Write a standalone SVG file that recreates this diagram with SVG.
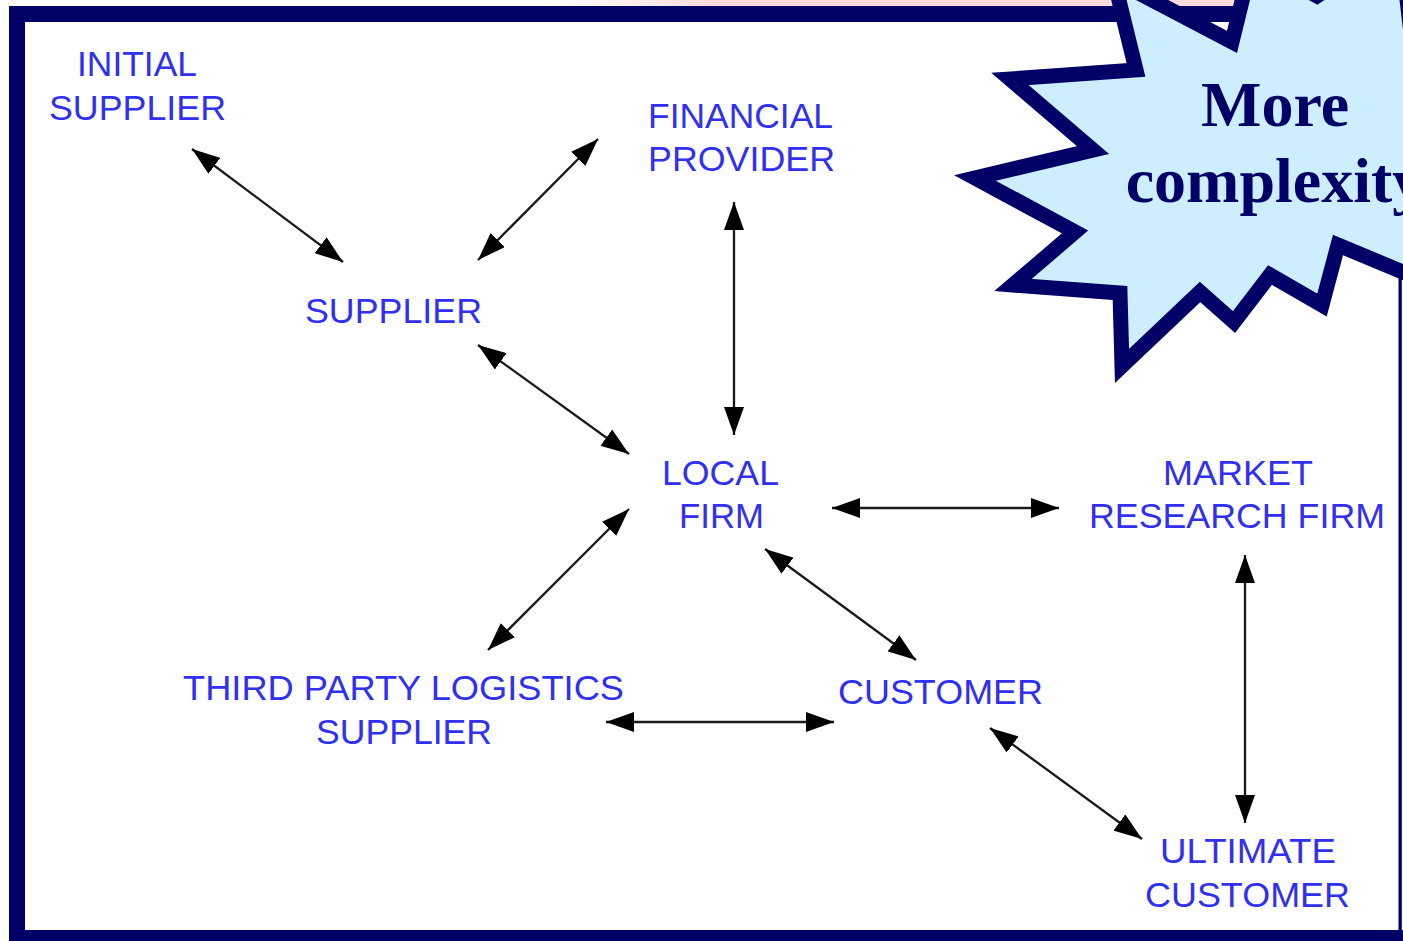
<svg xmlns="http://www.w3.org/2000/svg" width="1403" height="941" viewBox="0 0 1403 941">
<defs>
<style>
.lbl{font-family:"Liberation Sans",Arial,sans-serif;font-size:35px;fill:#3030f0}
.con{stroke:#1a1a1a;stroke-width:2.3;fill:none;marker-start:url(#ah);marker-end:url(#ah)}
.burst{fill:#cceeff;stroke:#000066;stroke-width:15;stroke-linejoin:miter;stroke-miterlimit:12}
.big{font-family:"Liberation Serif","Times New Roman",serif;font-weight:bold;font-size:64px;fill:#000066}
</style>
<linearGradient id="pink" x1="0" y1="0" x2="1" y2="0">
<stop offset="0" stop-color="#ffffff"/>
<stop offset="0.2" stop-color="#ffdcdc"/>
<stop offset="1" stop-color="#ffdcdc"/>
</linearGradient>
<marker id="ah" markerUnits="userSpaceOnUse" markerWidth="28" markerHeight="20" viewBox="0 0 28 20" refX="28" refY="10" orient="auto-start-reverse">
<path d="M0,0 L28,10 L0,20 Z" fill="#000"/>
</marker>
</defs>
<rect x="0" y="0" width="1403" height="941" fill="#ffffff"/>
<rect x="545" y="0" width="858" height="7" fill="url(#pink)"/>
<g id="frame">
<path d="M9,6 H1403 V941 H9 Z M25,22 V930 H1398.5 V22 Z" fill="#000066" fill-rule="evenodd"/>
<rect x="1401.8" y="22" width="1.2" height="908" fill="#ffffff"/>
</g>
<g id="connectors">
<line class="con" x1="192" y1="149" x2="343" y2="262"/>
<line class="con" x1="478" y1="260" x2="598" y2="139"/>
<line class="con" x1="734" y1="202" x2="734" y2="435"/>
<line class="con" x1="478" y1="345" x2="629" y2="454"/>
<line class="con" x1="629" y1="509" x2="488" y2="650"/>
<line class="con" x1="832" y1="508" x2="1059" y2="508"/>
<line class="con" x1="765" y1="549" x2="916" y2="660"/>
<line class="con" x1="606" y1="722" x2="834" y2="722"/>
<line class="con" x1="990" y1="728" x2="1142" y2="839"/>
<line class="con" x1="1245" y1="555" x2="1245" y2="823"/>
</g>
<g id="initial-supplier">
<text class="lbl" x="77" y="76" textLength="120" lengthAdjust="spacingAndGlyphs">INITIAL</text>
<text class="lbl" x="49" y="120" textLength="177" lengthAdjust="spacingAndGlyphs">SUPPLIER</text>
</g>
<g id="financial-provider">
<text class="lbl" x="648" y="128" textLength="185" lengthAdjust="spacingAndGlyphs">FINANCIAL</text>
<text class="lbl" x="648" y="171" textLength="187" lengthAdjust="spacingAndGlyphs">PROVIDER</text>
</g>
<g id="supplier">
<text class="lbl" x="305" y="323" textLength="177" lengthAdjust="spacingAndGlyphs">SUPPLIER</text>
</g>
<g id="local-firm">
<text class="lbl" x="662" y="485" textLength="117" lengthAdjust="spacingAndGlyphs">LOCAL</text>
<text class="lbl" x="679" y="528" textLength="85" lengthAdjust="spacingAndGlyphs">FIRM</text>
</g>
<g id="market-research-firm">
<text class="lbl" x="1163" y="485" textLength="150" lengthAdjust="spacingAndGlyphs">MARKET</text>
<text class="lbl" x="1089" y="528" textLength="296" lengthAdjust="spacingAndGlyphs">RESEARCH FIRM</text>
</g>
<g id="third-party-logistics">
<text class="lbl" x="183" y="700" textLength="441" lengthAdjust="spacingAndGlyphs">THIRD PARTY LOGISTICS</text>
<text class="lbl" x="316" y="744" textLength="176" lengthAdjust="spacingAndGlyphs">SUPPLIER</text>
</g>
<g id="customer">
<text class="lbl" x="838" y="704" textLength="205" lengthAdjust="spacingAndGlyphs">CUSTOMER</text>
</g>
<g id="ultimate-customer">
<text class="lbl" x="1160" y="863" textLength="176" lengthAdjust="spacingAndGlyphs">ULTIMATE</text>
<text class="lbl" x="1145" y="907" textLength="205" lengthAdjust="spacingAndGlyphs">CUSTOMER</text>
</g>
<g id="more-complexity">
<polygon class="burst" points="1114,-20 1136,70 1010,79 1093,150 975,178 1075,232 1013,285 1120,293 1122,366 1200,292 1234,322 1270,275 1322,305 1338,245 1470,300 1520,140 1412,42 1400,-60 1317,-4 1252,-40 1232,42"/>
<text class="big" x="1275" y="126" text-anchor="middle">More</text>
<text class="big" x="1275" y="202" text-anchor="middle">complexity</text>
</g>
</svg>
